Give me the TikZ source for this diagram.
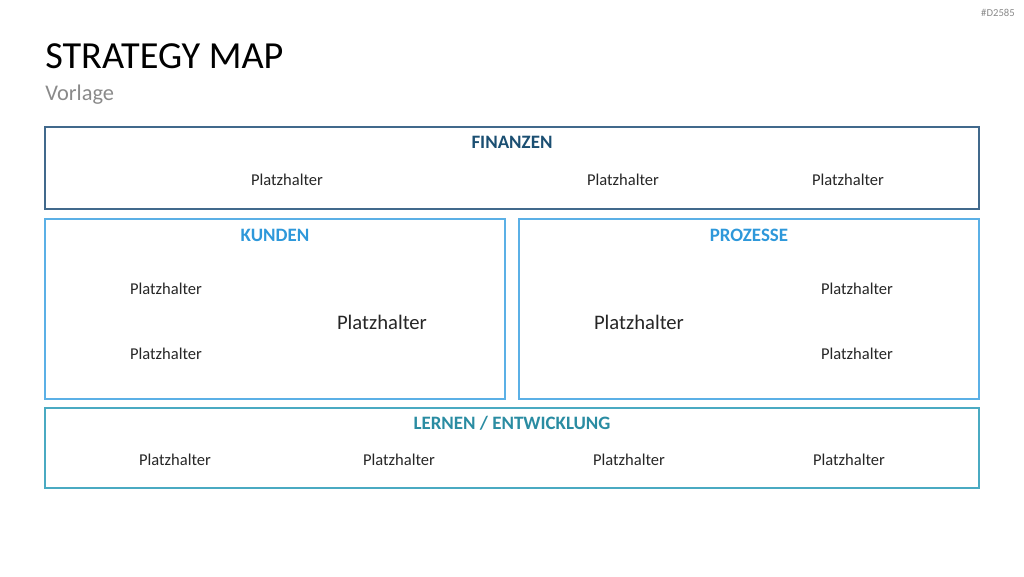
\documentclass[tikz,border=0pt]{standalone}
\usepackage{fontspec}
\setmainfont{Carlito}
\definecolor{finC}{HTML}{1B4F72}
\definecolor{finB}{HTML}{41698C}
\definecolor{kunC}{HTML}{2E98DA}
\definecolor{kunB}{HTML}{5BB0E6}
\definecolor{lerC}{HTML}{2A8CA2}
\definecolor{lerB}{HTML}{4AAAC2}
\definecolor{greyT}{HTML}{8A8A8A}
\begin{document}
\begin{tikzpicture}[x=0.75pt,y=-0.75pt,
  panel/.style={line width=1.1pt},
  head/.style={font=\fontsize{14.2}{16}\selectfont\bfseries, inner sep=0pt},
  ph/.style={font=\fontsize{12.4}{14}\selectfont, inner sep=0pt, text=black!85},
  phbig/.style={font=\fontsize{15.5}{18}\selectfont, inner sep=0pt, text=black!85}]
\useasboundingbox (0,0) rectangle (1024,576);
% title
\node[anchor=base west, inner sep=0pt, font=\fontsize{28.7}{32}\selectfont] (title) at (45,68) {STRATEGY MAP};
\node[anchor=base west, inner sep=0pt, font=\fontsize{16.8}{20}\selectfont, text=greyT] (sub) at (45,100) {Vorlage};
\node[anchor=east, inner sep=0pt, font=\fontsize{8}{9}\selectfont, text=greyT] (code) at (1015,13) {\#D2585};
% panels
\draw[panel, draw=finB] (45,127) rectangle (979,209);
\draw[panel, draw=kunB] (45,219) rectangle (505,399);
\draw[panel, draw=kunB] (519,219) rectangle (979,399);
\draw[panel, draw=lerB] (45,408) rectangle (979,488);
% finanzen
\node[head, text=finC] (fin) at (512,142) {FINANZEN};
\node[ph] (f1) at (287,180) {Platzhalter};
\node[ph] (f2) at (623,180) {Platzhalter};
\node[ph] (f3) at (848,180) {Platzhalter};
% kunden
\node[head, text=kunC] (kun) at (275,235) {KUNDEN};
\node[ph] (k1) at (166,289) {Platzhalter};
\node[ph] (k2) at (166,354) {Platzhalter};
\node[phbig] (k3) at (382,322) {Platzhalter};
% prozesse
\node[head, text=kunC] (pro) at (749,235) {PROZESSE};
\node[ph] (p1) at (857,289) {Platzhalter};
\node[ph] (p2) at (857,354) {Platzhalter};
\node[phbig] (p3) at (639,322) {Platzhalter};
% lernen
\node[head, text=lerC] (ler) at (512,423) {LERNEN / ENTWICKLUNG};
\node[ph] (l1) at (175,460) {Platzhalter};
\node[ph] (l2) at (399,460) {Platzhalter};
\node[ph] (l3) at (629,460) {Platzhalter};
\node[ph] (l4) at (849,460) {Platzhalter};
\end{tikzpicture}
\end{document}
